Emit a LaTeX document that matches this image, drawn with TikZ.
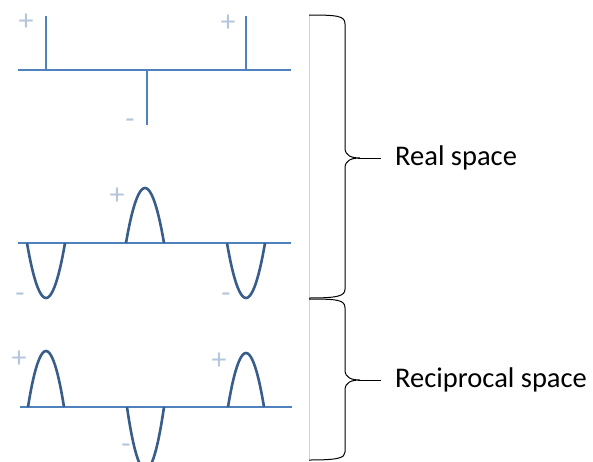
\documentclass[tikz,border=0pt]{standalone}
\usepackage{fontspec}
\setmainfont{Carlito}
\usetikzlibrary{positioning}

\definecolor{axisblue}{RGB}{79,129,189}
\definecolor{wavblue}{RGB}{56,93,138}
\definecolor{signgray}{RGB}{180,198,222}

\begin{document}
\begin{tikzpicture}[x=1pt,y=-1pt,
  axis/.style={draw=axisblue,line width=2.8pt},
  spike/.style={draw=axisblue,line width=2.8pt},
  bump/.style={draw=wavblue,line width=2.6pt},
  sign/.style={text=signgray,font=\fontsize{30}{30}\selectfont,inner sep=0pt},
  brc/.style={draw=black,line width=1pt},
  lbl/.style={anchor=west,font=\fontsize{28.5}{32}\selectfont,inner sep=0pt}
]
  \useasboundingbox (0,0) rectangle (593,461);

  % real space: delta spikes
  \draw[axis] (18,70) -- (291,70);
  \draw[spike] (46,70) -- (46,16);
  \draw[spike] (246,70) -- (246,16);
  \draw[spike] (147,70) -- (147,125);
  \node[sign](p1) at (26,22)  {+};
  \node[sign](p2) at (228,23) {+};
  \node[sign](m1) at (130,124){-};

  % real space: smeared
  \draw[axis] (18,243) -- (291,243);
  \draw[bump] (27,243) parabola bend (46,298) (65,243);
  \draw[bump] (126,243) parabola bend (145,188) (164,243);
  \draw[bump] (227,243) parabola bend (246,298) (265,243);
  \node[sign](p3) at (117,196){+};
  \node[sign](m2) at (20,298) {-};
  \node[sign](m3) at (226,298){-};

  % reciprocal space
  \draw[axis] (20,407) -- (292,407);
  \draw[bump] (28,407) parabola bend (46,351) (64,407);
  \draw[bump] (228,407) parabola bend (246,353) (264,407);
  \draw[bump] (127,407) parabola bend (145.5,470) (164,407);
  \node[sign](p4) at (19,359) {+};
  \node[sign](p5) at (219,361){+};
  \node[sign](m4) at (126,449){-};

  % divider
  \draw[gray!35,line width=0.6pt] (309,15) -- (309,461);

  % labels
  \node[lbl](real) at (395,158){Real space};
  \node[lbl](recip) at (395,380){Reciprocal space};

  % braces
  \draw[brc] (309,15) .. controls (338,15) and (345,16) .. (345,24)
    -- (345,148) .. controls (345,156) and (352,158) .. (360,158)
    .. controls (352,158) and (345,160) .. (345,168)
    -- (345,289) .. controls (345,296) and (338,298) .. (309,298);
  \draw[brc] (358,158) -- ([xshift=-14pt]real.west);
  \draw[brc] (309,299) .. controls (338,299) and (345,300) .. (345,308)
    -- (345,370) .. controls (345,378) and (352,380) .. (360,380)
    .. controls (352,380) and (345,382) .. (345,390)
    -- (345,452) .. controls (345,458) and (338,460) .. (309,460);
  \draw[brc] (358,380) -- ([xshift=-14pt]recip.west);
\end{tikzpicture}
\end{document}
